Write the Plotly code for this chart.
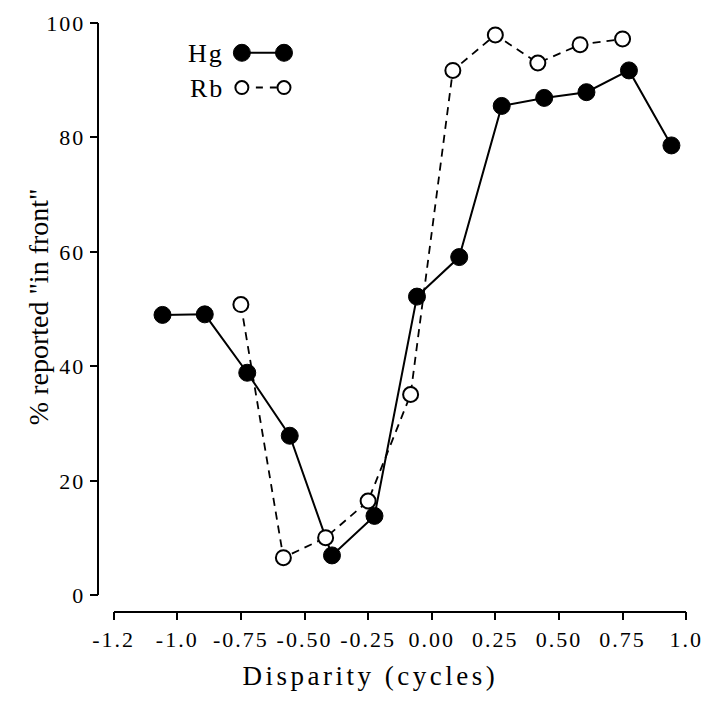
import plotly.graph_objects as go

# ---- data ----
hg_x = [-1.058, -0.892, -0.725, -0.558, -0.392, -0.225, -0.058, 0.108, 0.275, 0.442, 0.608, 0.775, 0.942]
hg_y = [49.0, 49.1, 38.9, 27.9, 7.0, 13.9, 52.2, 59.1, 85.5, 86.9, 87.9, 91.7, 78.6]
rb_x = [-0.75, -0.583, -0.417, -0.25, -0.083, 0.083, 0.25, 0.417, 0.583, 0.75]
rb_y = [50.8, 6.6, 10.1, 16.5, 35.1, 91.7, 97.9, 93.0, 96.2, 97.2]
x_tickvals = [-1.25, -1.0, -0.75, -0.5, -0.25, 0.0, 0.25, 0.5, 0.75, 1.0]
x_ticktext = ["-1.2", "-1.0", "-0.75", "-0.50", "-0.25", "0.00", "0.25", "0.50", "0.75", "1.0"]
y_tickvals = [0, 20, 40, 60, 80, 100]

W, H = 720, 703
FONT = "Liberation Serif"

def px(x):
    return x / W

def py(y):
    return 1 - y / H

fig = go.Figure()
fig.add_trace(go.Scatter(
    x=hg_x, y=hg_y, mode="lines+markers", name="Hg",
    line=dict(color="black", width=2),
    marker=dict(color="black", size=17, line=dict(color="black", width=1)),
    cliponaxis=False, showlegend=False))
fig.add_trace(go.Scatter(
    x=rb_x, y=rb_y, mode="lines+markers", name="Rb",
    line=dict(color="black", width=1.8, dash="8px,6px"),
    marker=dict(color="white", size=15, line=dict(color="black", width=2)),
    cliponaxis=False, showlegend=False))

# manual legend (two symbols joined by the series line, as in the original)
shapes = []
annotations = []
legend_items = [("Hg", 42.3, "black", 17, "solid", 2), ("Rb", 78.3, "white", 13, "7px,7px", 1.8)]
for name, yy, fill, size, dash, lw in legend_items:
    shapes.append(dict(type="line", xref="paper", yref="paper",
                       x0=px(235), x1=px(279), y0=py(yy), y1=py(yy),
                       line=dict(color="black", width=lw, dash=dash), layer="below"))
    for cx in (235, 279):
        shapes.append(dict(type="circle", xref="paper", yref="paper",
                           xsizemode="pixel", ysizemode="pixel",
                           xanchor=px(cx), yanchor=py(yy),
                           x0=-size / 2, x1=size / 2, y0=-size / 2, y1=size / 2,
                           fillcolor=fill, line=dict(color="black", width=2 if fill == "white" else 1)))
    annotations.append(dict(text=name, xref="paper", yref="paper", x=px(216), y=py(yy + 1),
                            xanchor="right", yanchor="middle", showarrow=False,
                            font=dict(family=FONT, size=26, color="black")))

annotations.append(dict(text="Disparity (cycles)", xref="paper", yref="paper",
                        x=px(369), y=py(688), xanchor="center", yanchor="middle",
                        showarrow=False, font=dict(family=FONT, size=27, color="black")))
annotations.append(dict(text="% reported \"in front\"", xref="paper", yref="paper",
                        x=px(22), y=py(306), xanchor="center", yanchor="middle", textangle=-90,
                        showarrow=False, font=dict(family=FONT, size=28, color="black")))

fig.update_layout(
    width=W, height=H,
    margin=dict(l=0, r=0, t=0, b=0),
    paper_bgcolor="white", plot_bgcolor="white",
    font=dict(family=FONT, size=22, color="black"),
    xaxis=dict(domain=[px(101), px(699.3)], range=[-1.25, 1.0],
               anchor="free", position=py(621.7),
               tickvals=x_tickvals, ticktext=x_ticktext, tickangle=0,
               ticklabeloverflow="allow",
               showline=True, linecolor="black", linewidth=1.5,
               ticks="outside", ticklen=8, tickwidth=1.5, tickcolor="black",
               showgrid=False, zeroline=False,
               tickfont=dict(family=FONT, size=22, color="black")),
    yaxis=dict(domain=[py(605), py(11.3)], range=[0, 100],
               anchor="free", position=px(85),
               tickvals=y_tickvals, ticklabeloverflow="allow",
               showline=True, linecolor="black", linewidth=1.5,
               ticks="outside", ticklen=8, tickwidth=1.5, tickcolor="black",
               showgrid=False, zeroline=False,
               tickfont=dict(family=FONT, size=22, color="black")),
    shapes=shapes, annotations=annotations,
)

post = """
var s = document.createElement('style');
s.textContent = 'html,body{margin:0;padding:0;overflow:hidden;}' +
  '.xtick text, .ytick text{letter-spacing:2px;}' +
  'g.annotation[data-index="0"] text, g.annotation[data-index="1"] text{letter-spacing:2px;}' +
  'g.annotation[data-index="2"] text{letter-spacing:3.5px;}';
document.head.appendChild(s);
"""

fig.write_html("out.html", post_script=post, config={"displayModeBar": False})
